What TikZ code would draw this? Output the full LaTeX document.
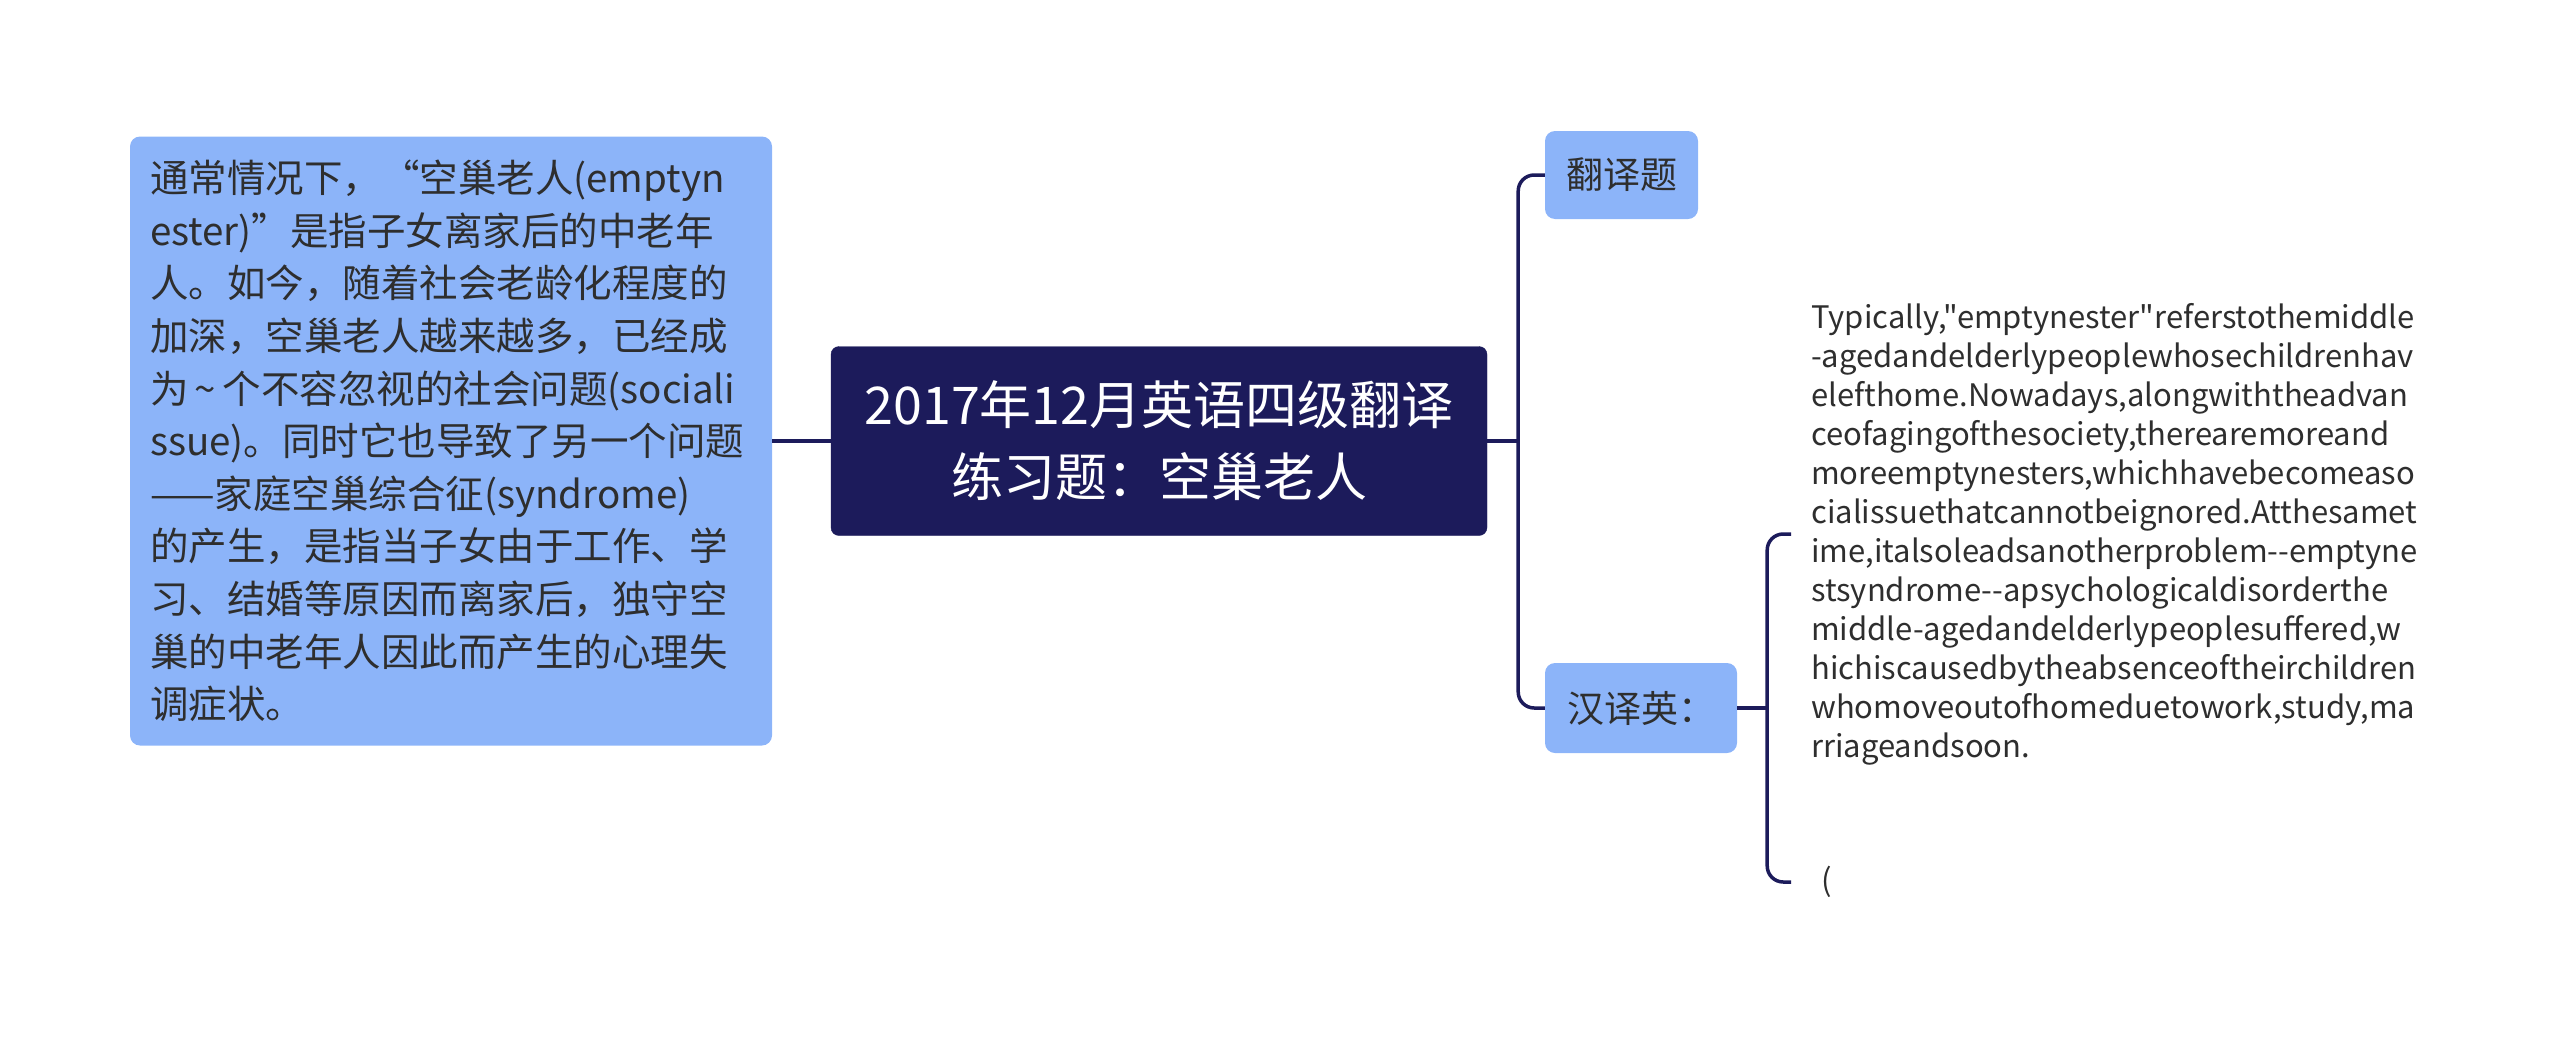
\documentclass[tikz,border=0pt]{standalone}
\usepackage{fontspec}
\setmainfont{Noto Sans CJK SC}
\newfontfamily\entext{Noto Sans CJK SC}
\usepackage{xcolor}
\usepackage{tikz}
\usetikzlibrary{positioning}

\definecolor{rootnavy}{HTML}{1C1B5B}
\definecolor{topicblue}{HTML}{8CB4F9}
\definecolor{textgrey}{HTML}{2E2E2E}

\begin{document}
\begin{tikzpicture}[
    x=1pt, y=-1pt,
    root/.style={rectangle, rounded corners=8pt, fill=rootnavy, draw=rootnavy, text=white, align=center, font=\fontsize{52}{72}\selectfont},
    topic/.style={rectangle, rounded corners=10pt, fill=topicblue, text=textgrey, font=\fontsize{37}{44}\selectfont},
    note/.style={text=textgrey, align=left, font=\entext\fontsize{31}{39}\selectfont},
    branch/.style={draw=rootnavy, line width=3.5pt, rounded corners=16pt}
]
\useasboundingbox (0,0) rectangle (2560,1047);

% Nodes
\node[root, minimum width=656, minimum height=189] (root) at (1159,441) {
    2017年12月英语四级翻译\\
    练习题：空巢老人
};

\node[topic, text width=602, inner xsep=20, minimum height=609, align=left, font=\fontsize{38.5}{52.6}\selectfont] (desc) at (451,441) {
    通常情况下，“空巢老人(emptyn\\
    ester)”是指子女离家后的中老年\\
    人。如今，随着社会老龄化程度的\\
    加深，空巢老人越来越多，已经成\\
    为\,{\char"7E}\,个不容忽视的社会问题(sociali\\
    ssue)。同时它也导致了另一个问题\\
    ——家庭空巢综合征(syndrome)\\
    的产生，是指当子女由于工作、学\\
    习、结婚等原因而离家后，独守空\\
    巢的中老年人因此而产生的心理失\\
    调症状。
};

\node[topic, minimum width=153, minimum height=88] (fanyi) at (1621.5,175) {翻译题};
\node[topic, minimum width=192, minimum height=90] (hanyiying) at (1641,708) {汉译英：};

\node[note, anchor=west, inner xsep=20] (english) at (1791,534) {
    Typically,"emptynester"referstothemiddle\\
    -agedandelderlypeoplewhosechildrenhav\\
    elefthome.Nowadays,alongwiththeadvan\\
    ceofagingofthesociety,therearemoreand\\
    moreemptynesters,whichhavebecomeaso\\
    cialissuethatcannotbeignored.Atthesamet\\
    ime,italsoleadsanotherproblem--emptyne\\
    stsyndrome--apsychologicaldisorderthe\\
    middle-agedandelderlypeoplesuffered,w\\
    hichiscausedbytheabsenceoftheirchildren\\
    whomoveoutofhomeduetowork,study,ma\\
    rriageandsoon.
};
\node[note, anchor=west, inner xsep=30] (paren) at (1791,882) {(};

% Connections
\path (root.east) ++(31,0) coordinate (rootfork);
\path (hanyiying.east) ++(30,0) coordinate (hanfork);

\draw[branch] (desc.east) -- (root.west);
\draw[branch] (root.east) -- (rootfork);
\draw[branch] (rootfork) |- (fanyi.west);
\draw[branch] (rootfork) |- (hanyiying.west);
\draw[branch] (hanyiying.east) -- (hanfork);
\draw[branch] (hanfork) |- (english.west);
\draw[branch] (hanfork) |- (paren.west);

\end{tikzpicture}
\end{document}
